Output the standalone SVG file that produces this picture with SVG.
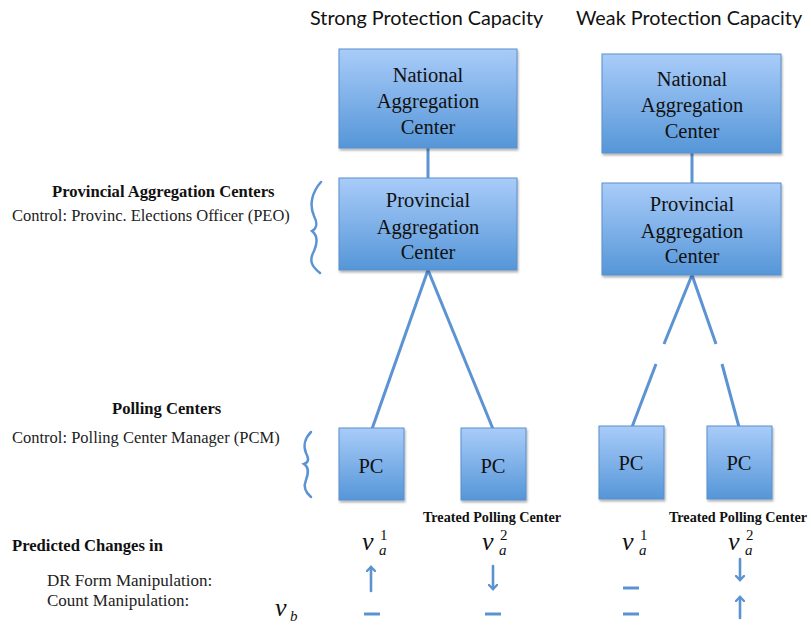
<svg xmlns="http://www.w3.org/2000/svg" width="811" height="628" viewBox="0 0 811 628">
<defs>
<linearGradient id="g" x1="0" y1="0" x2="0" y2="1">
<stop offset="0" stop-color="#a9ccf9"/>
<stop offset="1" stop-color="#5596d8"/>
</linearGradient>
<filter id="sh" x="-10%" y="-10%" width="130%" height="130%">
<feDropShadow dx="1" dy="2" stdDeviation="1.2" flood-color="#000" flood-opacity="0.3"/>
</filter>
<marker id="ah" viewBox="0 0 10 10" refX="5" refY="5" markerWidth="10" markerHeight="10" markerUnits="userSpaceOnUse" orient="auto">
<path d="M1,1 L5,5 L1,9" fill="none" stroke="#5b93d0" stroke-width="2.4" stroke-linecap="round"/>
</marker>
</defs>
<style>
.box{fill:url(#g);stroke:#5a8fcc;stroke-width:1;filter:url(#sh)}
.sf{font-family:Liberation Serif,Tinos,DejaVu Serif,serif}
.bt{font-size:20.5px;fill:#111;text-anchor:middle}
.hd{font-family:Lato,Open Sans,sans-serif;font-size:19.8px;fill:#111}
.lb{font-size:16.5px;fill:#222}
.lb2{font-size:17px;fill:#222}
.lbb{font-size:16.6px;font-weight:bold;fill:#111}
.tr{font-size:14.2px;font-weight:bold;fill:#111;text-anchor:middle}
.ln{stroke:#5b93d3;stroke-width:3;fill:none}
.br{stroke:#5b93d3;stroke-width:2.5;fill:none;stroke-linecap:round}
.ar{stroke:#5b93d0;stroke-width:2.6;fill:none;stroke-linecap:round}
.ds{stroke:#5b93d0;stroke-width:3;fill:none}
.mv{font-style:italic;font-size:26px;fill:#111}
.ms{font-size:15px;fill:#111}
.mi{font-style:italic;font-size:15px;fill:#111}
</style>

<text class="hd" x="310" y="25">Strong Protection Capacity</text>
<text class="hd" x="576" y="25">Weak Protection Capacity</text>

<g id="connectors">
<line class="ln" x1="428" y1="148" x2="428" y2="178"/>
<line class="ln" x1="428" y1="270" x2="372" y2="429"/>
<line class="ln" x1="428" y1="270" x2="493" y2="429"/>
<line class="ln" x1="692" y1="153" x2="692" y2="183"/>
<line class="ln" x1="692" y1="275" x2="664" y2="344"/>
<line class="ln" x1="692" y1="275" x2="716" y2="344"/>
<line class="ln" x1="656" y1="364" x2="632" y2="427"/>
<line class="ln" x1="722" y1="364" x2="739" y2="427"/>
</g>

<g id="strong-national">
<rect class="box" x="339" y="49" width="178" height="99"/>
<text class="sf bt" x="428" y="82">National</text>
<text class="sf bt" x="428" y="108">Aggregation</text>
<text class="sf bt" x="428" y="134">Center</text>
</g>
<g id="strong-provincial">
<rect class="box" x="339" y="178" width="178" height="92"/>
<text class="sf bt" x="428" y="207">Provincial</text>
<text class="sf bt" x="428" y="234">Aggregation</text>
<text class="sf bt" x="428" y="259">Center</text>
</g>
<g id="weak-national">
<rect class="box" x="602" y="54" width="179" height="99"/>
<text class="sf bt" x="692" y="86">National</text>
<text class="sf bt" x="692" y="112">Aggregation</text>
<text class="sf bt" x="692" y="138">Center</text>
</g>
<g id="weak-provincial">
<rect class="box" x="602" y="183" width="179" height="92"/>
<text class="sf bt" x="692" y="211">Provincial</text>
<text class="sf bt" x="692" y="238">Aggregation</text>
<text class="sf bt" x="692" y="263">Center</text>
</g>
<g id="pc1">
<rect class="box" x="339" y="428" width="65" height="72"/>
<text class="sf bt" x="371" y="473">PC</text>
</g>
<g id="pc2">
<rect class="box" x="461" y="428" width="65" height="72"/>
<text class="sf bt" x="493" y="473">PC</text>
</g>
<g id="pc3">
<rect class="box" x="599" y="426" width="65" height="73"/>
<text class="sf bt" x="631" y="470">PC</text>
</g>
<g id="pc4">
<rect class="box" x="707" y="426" width="65" height="73"/>
<text class="sf bt" x="739" y="470">PC</text>
</g>

<g id="braces">
<path class="br" d="M321,182 C312,192 309,205 314,216 C318,224 317,228 312,231 C317,235 318,242 314,251 C309,260 311,266 320,273"/>
<path class="br" d="M311,432 C305,438 303,446 306,453 C309,459 309,462 304,464 C309,467 309,472 306,480 C303,487 305,492 311,497"/>
</g>

<g id="labels">
<text class="sf lbb" x="52" y="197">Provincial Aggregation Centers</text>
<text class="sf lb" x="12" y="221">Control: Provinc. Elections Officer (PEO)</text>
<text class="sf lbb" x="112" y="414">Polling Centers</text>
<text class="sf lb" x="12" y="443">Control: Polling Center Manager (PCM)</text>
<text class="sf lbb" x="12" y="551">Predicted Changes in</text>
<text class="sf lb2" x="47" y="586">DR Form Manipulation:</text>
<text class="sf lb2" x="47" y="606">Count Manipulation:</text>
<text class="sf tr" x="492" y="522">Treated Polling Center</text>
<text class="sf tr" x="738" y="522">Treated Polling Center</text>
</g>

<g id="math">
<text class="sf mv" x="362" y="550">v</text><text class="sf ms" x="380" y="540">1</text><text class="sf mi" x="379" y="555">a</text>
<text class="sf mv" x="482" y="550">v</text><text class="sf ms" x="500" y="540">2</text><text class="sf mi" x="499" y="555">a</text>
<text class="sf mv" x="622" y="550">v</text><text class="sf ms" x="640" y="540">1</text><text class="sf mi" x="639" y="555">a</text>
<text class="sf mv" x="728" y="550">v</text><text class="sf ms" x="746" y="540">2</text><text class="sf mi" x="745" y="555">a</text>
<text class="sf mv" x="275" y="616">v</text><text class="sf mi" x="290" y="621">b</text>
</g>

<g id="predictions">
<line class="ar" x1="371" y1="591" x2="371" y2="567" marker-end="url(#ah)"/>
<line class="ar" x1="493" y1="566" x2="493" y2="589" marker-end="url(#ah)"/>
<line class="ar" x1="740" y1="559" x2="740" y2="580" marker-end="url(#ah)"/>
<line class="ar" x1="740" y1="618" x2="740" y2="597" marker-end="url(#ah)"/>
<line class="ds" x1="364" y1="614" x2="380" y2="614"/>
<line class="ds" x1="485" y1="614" x2="501" y2="614"/>
<line class="ds" x1="623" y1="588" x2="639" y2="588"/>
<line class="ds" x1="623" y1="614" x2="639" y2="614"/>
</g>
</svg>
